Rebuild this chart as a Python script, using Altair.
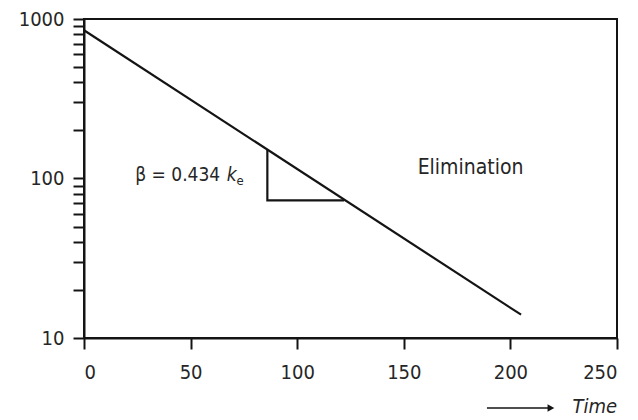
import altair as alt
import pandas as pd

# data
line_time = [0, 205]
line_conc = [850, 14]

tri_time = [86, 86, 122]
tri_conc = [152, 73, 73]
tri_order = [0, 1, 2]

x_ticks = [0, 50, 100, 150, 200, 250]
y_ticks = [10, 20, 30, 40, 50, 60, 70, 80, 90,
           100, 200, 300, 400, 500, 600, 700, 800, 900, 1000]
y_labels = [10, 100, 1000]

FONT = "DejaVu Sans Condensed"
INK = "#141414"
TXT = "#262626"

xs = alt.Scale(domain=[0, 250], nice=False)
ys = alt.Scale(type="log", domain=[10, 1000], nice=False)

line_df = pd.DataFrame({"time": line_time, "conc": line_conc})
tri_df = pd.DataFrame({"time": tri_time, "conc": tri_conc, "o": tri_order})

base_x = alt.X("time:Q", scale=xs,
               axis=alt.Axis(values=x_ticks, title=None, format="d",
                             labelPadding=13))
base_y = alt.Y("conc:Q", scale=ys,
               axis=alt.Axis(values=y_ticks, title=None,
                             labelExpr="indexof([10,100,1000], datum.value) >= 0 ? format(datum.value, 'd') : ''",
                             labelPadding=9))

line = alt.Chart(line_df).mark_line(color=INK, strokeWidth=2.2).encode(
    x=base_x, y=base_y)

tri = alt.Chart(tri_df).mark_line(color=INK, strokeWidth=2.2).encode(
    x="time:Q", y="conc:Q", order="o:Q")


def txt(t, c, s, size, style="normal", align="left"):
    d = pd.DataFrame({"time": [t], "conc": [c], "txt": [s]})
    return alt.Chart(d).mark_text(align=align, baseline="middle", font=FONT,
                                  fontSize=size, fontStyle=style,
                                  color=TXT).encode(
        x="time:Q", y="conc:Q", text="txt:N")


beta = txt(24, 105, "β = 0.434", 19)
k = txt(67, 105, "k", 19, "italic")
e = txt(71.5, 97, "e", 13)
elim = txt(156.5, 116, "Elimination", 21)

arrow_df = pd.DataFrame({"t0": [189], "t1": [219]})
arrow = alt.Chart(arrow_df).mark_rule(color=INK, strokeWidth=1.5).encode(
    x="t0:Q", x2="t1:Q", y=alt.value(389))
head = alt.Chart(arrow_df).mark_point(shape="triangle-right", filled=True,
                                      color=INK, size=60, opacity=1).encode(
    x="t1:Q", y=alt.value(389))

time_df = pd.DataFrame({"time": [250], "txt": ["Time"]})
time_lab = alt.Chart(time_df).mark_text(align="right", baseline="middle",
                                        font=FONT, fontStyle="italic",
                                        fontSize=20, color=TXT).encode(
    x="time:Q", y=alt.value(388), text="txt:N")

chart = alt.layer(line, tri, beta, k, e, elim, arrow, head, time_lab).properties(
    width=533, height=319,
    background="white",
    autosize=alt.AutoSizeParams(type="none"),
    padding={"left": 84, "top": 19, "right": 21, "bottom": 82},
).configure_view(stroke=INK, strokeWidth=2).configure_axis(
    domainColor=INK, domainWidth=2, tickColor=INK, tickWidth=2, tickSize=11,
    labelFont=FONT, labelFontSize=20, labelColor=TXT, grid=False,
)

chart.save("out.html", embed_options={"renderer": "svg", "actions": False})
